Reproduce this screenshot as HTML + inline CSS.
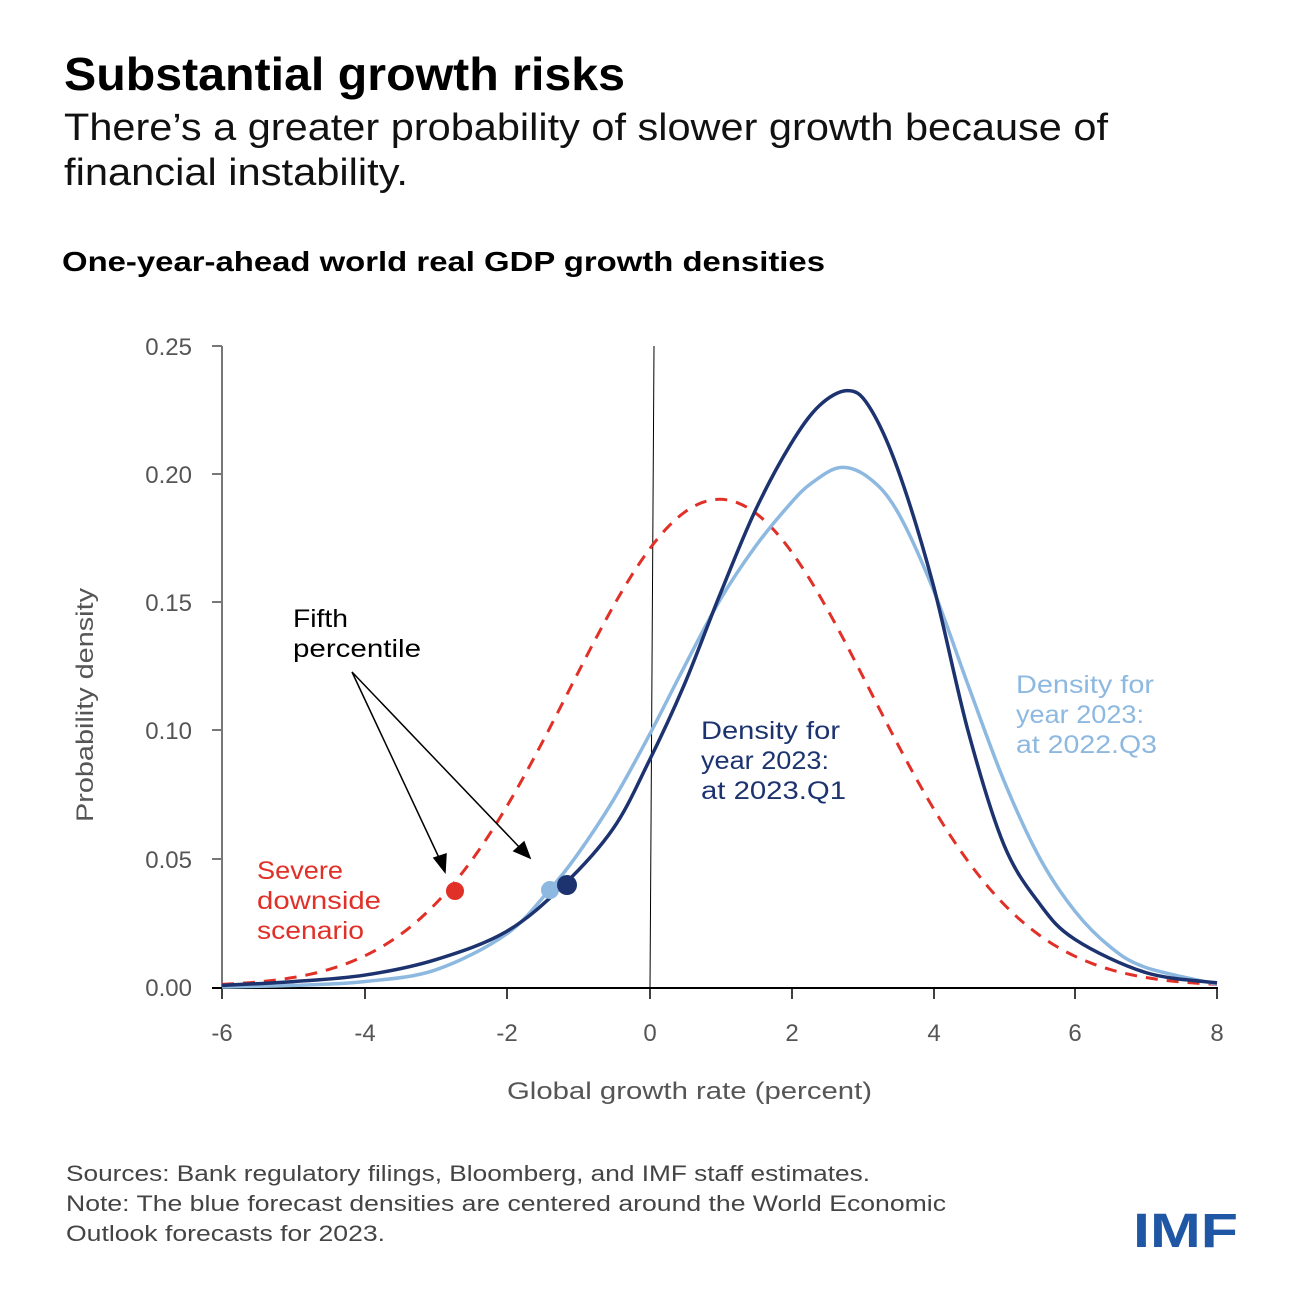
<!DOCTYPE html>
<html><head><meta charset="utf-8"><style>
body{margin:0;background:#fff;width:1300px;height:1300px;overflow:hidden;font-family:"Liberation Sans",sans-serif}
svg text{font-family:"Liberation Sans",sans-serif}
</style></head><body>
<svg id="s" width="1300" height="1300" viewBox="0 0 1300 1300">
<text x="64" y="90" font-size="46" font-weight="bold" fill="#000" textLength="561" lengthAdjust="spacingAndGlyphs">Substantial growth risks</text>
<text x="64" y="140" font-size="38" fill="#111" textLength="1044" lengthAdjust="spacingAndGlyphs">There’s a greater probability of slower growth because of</text>
<text x="64" y="185" font-size="38" fill="#111" textLength="344" lengthAdjust="spacingAndGlyphs">financial instability.</text>
<text x="62" y="271" font-size="28" font-weight="bold" fill="#000" textLength="763" lengthAdjust="spacingAndGlyphs">One-year-ahead world real GDP growth densities</text>
<g font-size="24" fill="#555" text-anchor="end">
<text x="192" y="355">0.25</text><text x="192" y="483">0.20</text><text x="192" y="611">0.15</text>
<text x="192" y="739">0.10</text><text x="192" y="868">0.05</text><text x="192" y="996">0.00</text>
</g>
<g font-size="24" fill="#555" text-anchor="middle">
<text x="222" y="1041">-6</text><text x="365" y="1041">-4</text><text x="507" y="1041">-2</text><text x="650" y="1041">0</text>
<text x="792" y="1041">2</text><text x="934" y="1041">4</text><text x="1075" y="1041">6</text><text x="1217" y="1041">8</text>
</g>
<text x="507" y="1099" font-size="24" fill="#555" textLength="365" lengthAdjust="spacingAndGlyphs">Global growth rate (percent)</text>
<text transform="translate(93,822) rotate(-90)" font-size="24" fill="#555" textLength="234" lengthAdjust="spacingAndGlyphs">Probability density</text>
<line x1="222" y1="346" x2="222" y2="988" stroke="#777" stroke-width="2"/>
<g stroke="#777" stroke-width="2"><line x1="212" y1="346" x2="222" y2="346"/><line x1="212" y1="474" x2="222" y2="474"/><line x1="212" y1="602" x2="222" y2="602"/><line x1="212" y1="730" x2="222" y2="730"/><line x1="212" y1="859" x2="222" y2="859"/></g>
<line x1="212" y1="988" x2="1218" y2="988" stroke="#000" stroke-width="2"/>
<g stroke="#000" stroke-width="1.5"><line x1="222" y1="988" x2="222" y2="999"/><line x1="365" y1="988" x2="365" y2="999"/><line x1="507" y1="988" x2="507" y2="999"/><line x1="650" y1="988" x2="650" y2="999"/><line x1="792" y1="988" x2="792" y2="999"/><line x1="934" y1="988" x2="934" y2="999"/><line x1="1075" y1="988" x2="1075" y2="999"/><line x1="1217" y1="988" x2="1217" y2="999"/></g>
<line x1="654" y1="346" x2="650" y2="988" stroke="#000" stroke-width="1"/>
<path id="red" fill="none" stroke="#e03027" stroke-width="3" stroke-dasharray="12,9"/>
<path id="light" fill="none" stroke="#8db8e0" stroke-width="3.5"/>
<path id="dark" fill="none" stroke="#1c3370" stroke-width="3.5"/>
<circle cx="455" cy="891" r="9" fill="#e03027"/>
<circle cx="550" cy="890" r="9" fill="#8db8e0"/>
<circle cx="567" cy="885" r="10" fill="#1c3370"/>
<g stroke="#000" stroke-width="1.5" fill="#000">
<line x1="352" y1="672" x2="441" y2="862"/><polygon points="445,872 434,858 446,854"/>
<line x1="352" y1="672" x2="522" y2="850"/><polygon points="530,858 514,851 524,842"/>
</g>
<g font-size="25" fill="#000"><text x="293" y="627" textLength="55" lengthAdjust="spacingAndGlyphs">Fifth</text>
<text x="293" y="657" textLength="128" lengthAdjust="spacingAndGlyphs">percentile</text></g>
<g font-size="25" fill="#e03027"><text x="257" y="879" textLength="86" lengthAdjust="spacingAndGlyphs">Severe</text><text x="257" y="909" textLength="124" lengthAdjust="spacingAndGlyphs">downside</text><text x="257" y="939" textLength="107" lengthAdjust="spacingAndGlyphs">scenario</text></g>
<g font-size="25" fill="#1c3370"><text x="701" y="739" textLength="139" lengthAdjust="spacingAndGlyphs">Density for</text><text x="701" y="769" textLength="128" lengthAdjust="spacingAndGlyphs">year 2023:</text><text x="701" y="799" textLength="145" lengthAdjust="spacingAndGlyphs">at 2023.Q1</text></g>
<g font-size="25" fill="#8db8e0"><text x="1016" y="693" textLength="138" lengthAdjust="spacingAndGlyphs">Density for</text><text x="1016" y="723" textLength="128" lengthAdjust="spacingAndGlyphs">year 2023:</text><text x="1016" y="753" textLength="141" lengthAdjust="spacingAndGlyphs">at 2022.Q3</text></g>
<g font-size="22" fill="#444"><text x="66" y="1181" textLength="804" lengthAdjust="spacingAndGlyphs">Sources: Bank regulatory filings, Bloomberg, and IMF staff estimates.</text>
<text x="66" y="1211" textLength="880" lengthAdjust="spacingAndGlyphs">Note: The blue forecast densities are centered around the World Economic</text>
<text x="66" y="1241" textLength="319" lengthAdjust="spacingAndGlyphs">Outlook forecasts for 2023.</text></g>
<text x="1133" y="1247" font-size="48" font-weight="bold" fill="#1f57a5" textLength="105" lengthAdjust="spacingAndGlyphs">IMF</text>
</svg>
<script>
function X(v){return 222+(v+6)*71.07}
function Y(d){return 988-d*2564}
function path(pts){
 var p=pts.map(function(a){return [X(a[0]),Y(a[1])]});
 var s="M"+p[0][0].toFixed(1)+","+p[0][1].toFixed(1);
 for(var i=0;i<p.length-1;i++){
  var p0=p[Math.max(0,i-1)],p1=p[i],p2=p[i+1],p3=p[Math.min(p.length-1,i+2)];
  var c1=[p1[0]+(p2[0]-p0[0])/6,p1[1]+(p2[1]-p0[1])/6],c2=[p2[0]-(p3[0]-p1[0])/6,p2[1]-(p3[1]-p1[1])/6];
  s+=" C"+c1.join(",")+" "+c2.join(",")+" "+p2.join(",");
 }
 return s;
}
var red=[];for(var v=-6;v<=8.001;v+=0.25){red.push([v,0.19*Math.exp(-(v-1)*(v-1)/9)+0.0006])}
var dark=[[-6,0.001],[-5,0.0025],[-4,0.005],[-3,0.011],[-2,0.022],[-1.2,0.040],[-0.5,0.062],[0,0.088],[0.5,0.118],[1,0.153],[1.5,0.186],[2,0.212],[2.4,0.227],[2.8,0.233],[3.1,0.227],[3.5,0.203],[4,0.158],[4.5,0.100],[5,0.056],[5.5,0.033],[6,0.019],[7,0.006],[8,0.002]];
var light=[[-6,0.0004],[-5,0.001],[-4,0.0025],[-3,0.007],[-2,0.021],[-1.4,0.038],[-1,0.052],[-0.5,0.073],[0,0.098],[0.5,0.125],[1,0.151],[1.5,0.172],[2,0.189],[2.3,0.197],[2.7,0.203],[3.1,0.199],[3.5,0.186],[4,0.156],[4.5,0.118],[5,0.081],[5.5,0.051],[6,0.030],[6.5,0.016],[7,0.008],[8,0.0015]];
document.getElementById("red").setAttribute("d",path(red));
document.getElementById("dark").setAttribute("d",path(dark));
document.getElementById("light").setAttribute("d",path(light));
</script>
</body></html>
